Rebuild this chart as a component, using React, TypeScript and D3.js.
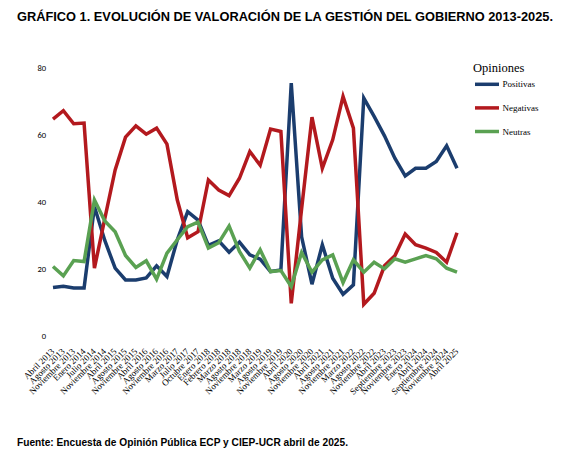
import React from "react";
import * as d3 from "d3";

const categories = [
  "Abril 2013", "Agosto 2013", "Noviembre 2013", "Enero 2014", "Julio 2014",
  "Noviembre 2014", "Abril 2015", "Agosto 2015", "Noviembre 2015", "Abril 2016",
  "Agosto 2016", "Noviembre 2016", "Marzo 2017", "Julio 2017", "Octubre 2017",
  "Enero 2018", "Febrero 2018", "Marzo 2018", "Agosto 2018", "Noviembre 2018",
  "Marzo 2019", "Agosto 2019", "Noviembre 2019", "Abril 2020", "Agosto 2020",
  "Noviembre 2020", "Abril 2021", "Agosto 2021", "Noviembre 2021", "Marzo 2022",
  "Agosto 2022", "Noviembre 2022", "Abril 2023", "Septiembre 2023", "Noviembre 2023",
  "Enero 2024", "Abril 2024", "Septiembre 2024", "Noviembre 2024", "Abril 2025",
];

const positivas = [
  14.4, 14.8, 14.3, 14.3, 38.6, 28.5, 20.2, 16.7, 16.7, 17.3,
  20.9, 17.7, 28.7, 37.1, 34.6, 27.0, 28.4, 25.0, 28.0, 24.2,
  22.9, 19.2, 19.7, 75.6, 29.6, 15.4, 27.2, 17.2, 12.4, 15.2,
  71.1, 65.6, 59.8, 53.1, 47.8, 50.1, 50.1, 52.1, 56.8, 50.1,
];

const negativas = [
  64.8, 67.3, 63.4, 63.6, 20.2, 35.0, 49.6, 59.4, 62.8, 60.3,
  62.1, 57.3, 40.6, 29.3, 31.1, 46.6, 43.6, 41.9, 47.1, 55.1,
  51.0, 61.8, 61.1, 9.7, 38.0, 65.4, 50.1, 58.6, 71.6, 62.1,
  9.4, 12.7, 20.9, 23.9, 30.4, 27.2, 26.2, 24.9, 22.0, 30.8,
];

const neutras = [
  20.7, 17.9, 22.5, 22.2, 40.6, 34.3, 31.1, 24.0, 20.4, 22.4,
  16.9, 24.7, 28.7, 32.6, 34.0, 26.2, 27.8, 32.8, 25.2, 20.2,
  25.7, 19.2, 19.5, 14.7, 24.9, 19.0, 22.7, 24.2, 15.9, 22.7,
  19.0, 22.0, 20.0, 23.0, 22.0, 23.0, 24.0, 23.0, 20.2, 19.0,
];

const yTicks = [0, 20, 40, 60, 80];

const seriesNames = ["Positivas", "Negativas", "Neutras"];
const seriesColors = ["#1b3d6e", "#b3191e", "#5aa152"];
const seriesValues = [positivas, negativas, neutras];

const title = "GRÁFICO 1. EVOLUCIÓN DE VALORACIÓN DE LA GESTIÓN DEL GOBIERNO 2013-2025.";
const source = "Fuente: Encuesta de Opinión Pública ECP y CIEP-UCR abril de 2025.";
const legendTitle = "Opiniones";

export default function App() {
  const W = 567;
  const H = 455;
  const x = d3.scalePoint<string>().domain(categories).range([53, 457]);
  const y = d3.scaleLinear().domain([0, 80]).range([335.7, 68.3]);
  const line = d3
    .line<number>()
    .x((_, i) => x(categories[i]) as number)
    .y((d) => y(d));

  return (
    <div style={{ position: "absolute", left: 0, top: 0 }}>
      <svg width={W} height={H} style={{ display: "block", background: "#fff" }}>
        <text
          x={17}
          y={21}
          fontFamily="'Liberation Sans', Arial, sans-serif"
          fontWeight="bold"
          fontSize={12.5}
          textLength={536}
          lengthAdjust="spacingAndGlyphs"
          fill="#000"
        >
          {title}
        </text>

        {yTicks.map((t) => (
          <text
            key={t}
            x={46}
            y={y(t)}
            dy="0.35em"
            textAnchor="end"
            fontFamily="Carlito, 'Liberation Sans', Arial, sans-serif"
            fontSize={8.5}
            fill="#000"
          >
            {t}
          </text>
        ))}

        {categories.map((c) => (
          <text
            key={c}
            transform={`translate(${(x(c) as number) + 2},${352}) rotate(-45)`}
            textAnchor="end"
            fontFamily="'Liberation Serif', 'Times New Roman', serif"
            fontSize={9}
            fill="#000"
          >
            {c}
          </text>
        ))}

        {seriesValues.map((vals, i) => (
          <path
            key={seriesNames[i]}
            d={line(vals) || ""}
            fill="none"
            stroke={seriesColors[i]}
            strokeWidth={3.5}
            strokeLinejoin="miter"
          />
        ))}

        <text
          x={473}
          y={72}
          fontFamily="'Liberation Serif', 'Times New Roman', serif"
          fontSize={12.5}
          fill="#000"
        >
          {legendTitle}
        </text>
        {seriesNames.map((n, i) => (
          <g key={n} transform={`translate(0,${84.3 + i * 23.6})`}>
            <line x1={475} x2={499} y1={0} y2={0} stroke={seriesColors[i]} strokeWidth={3.5} />
            <text
              x={502.5}
              y={0}
              dy="0.35em"
              fontFamily="'Liberation Serif', 'Times New Roman', serif"
              fontSize={9}
              fill="#000"
            >
              {n}
            </text>
          </g>
        ))}

        <text
          x={17}
          y={446}
          fontFamily="'Liberation Sans', Arial, sans-serif"
          fontWeight="bold"
          fontSize={10}
          textLength={331}
          lengthAdjust="spacingAndGlyphs"
          fill="#000"
        >
          {source}
        </text>
      </svg>
    </div>
  );
}
